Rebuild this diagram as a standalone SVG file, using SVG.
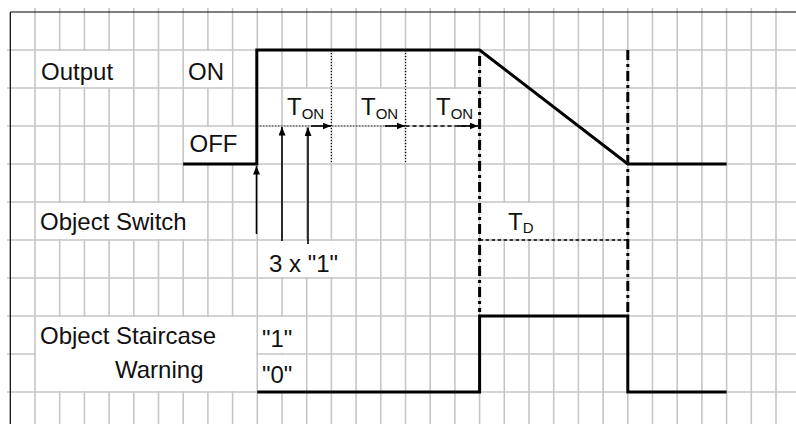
<svg xmlns="http://www.w3.org/2000/svg" width="796" height="424" viewBox="0 0 796 424">
  <defs>
    <style>
      .grid { stroke: #c6c6c6; stroke-width: 1.6; fill: none; }
      .frame { stroke: #000; stroke-width: 1.2; fill: none; }
      .box { fill: #fff; }
      .sig { stroke: #000; stroke-width: 3; fill: none; stroke-linejoin: miter; }
      .dashdot { stroke: #000; stroke-width: 3; fill: none; stroke-dasharray: 10 4 3 4; }
      .dot { stroke: #000; stroke-width: 1.2; fill: none; stroke-dasharray: 1 2; }
      .dash { stroke: #000; stroke-width: 1.4; fill: none; stroke-dasharray: 4 3; }
      .arrow { stroke: #000; stroke-width: 1.6; fill: none; marker-end: url(#head); }
      text { font-family: "Liberation Sans", Arial, sans-serif; font-size: 24px; fill: #111; }
      .sub { font-size: 15px; }
    </style>
    <marker id="head" markerUnits="userSpaceOnUse" markerWidth="9" markerHeight="8" refX="8.5" refY="3.5" orient="auto">
      <path d="M0 0 L8.5 3.5 L0 7 z" fill="#000"/>
    </marker>
  </defs>

  <rect width="796" height="424" fill="#fff"/>

  <!-- background grid: 24.7 px columns, 38 px rows -->
  <g id="grid">
    <path class="grid" d="M35 8V424M59.7 8V424M84.4 8V424M109.1 8V424M133.8 8V424M158.5 8V424M183.2 8V424M207.9 8V424M232.6 8V424M257.3 8V424M282 8V424M306.7 8V424M331.4 8V424M356.1 8V424M380.8 8V424M405.5 8V424M430.2 8V424M454.9 8V424M479.6 8V424M504.3 8V424M529 8V424M553.7 8V424M578.4 8V424M603.1 8V424M627.8 8V424M652.5 8V424M677.2 8V424M701.9 8V424M726.6 8V424M751.3 8V424M776 8V424"/>
    <path class="grid" d="M7 50H796M7 88H796M7 126H796M7 164H796M7 202H796M7 240H796M7 278H796M7 316H796M7 354H796M7 392H796"/>
    <path class="frame" d="M10.3 12V424M10.3 12H796"/>
    <!-- label backgrounds -->
    <rect class="box" x="36" y="51" width="97" height="36"/>
    <rect class="box" x="184" y="51" width="48" height="36"/>
    <rect class="box" x="184" y="127" width="72" height="36"/>
    <rect class="box" x="283" y="89" width="47.5" height="36"/>
    <rect class="box" x="357" y="89" width="47.5" height="36"/>
    <rect class="box" x="431" y="89" width="47.5" height="36"/>
    <rect class="box" x="36" y="203" width="171" height="36"/>
    <rect class="box" x="258" y="241" width="97" height="36"/>
    <rect class="box" x="480.5" y="203" width="72" height="36"/>
    <rect class="box" x="36" y="317" width="220" height="74"/>
    <rect class="box" x="258" y="317" width="48" height="36"/>
    <rect class="box" x="258" y="355" width="48" height="36"/>
  </g>

  <!-- output channel -->
  <g id="output">
    <text x="41" y="80">Output</text>
    <text x="188" y="80">ON</text>
    <text x="189.5" y="152">OFF</text>
    <path class="sig" d="M183.2 164H256.8V50H479.6L627.8 164H726.6"/>
  </g>

  <!-- switch object telegrams -->
  <g id="object-switch">
    <text x="40" y="230">Object Switch</text>
    <text x="269" y="271.5">3 x "1"</text>
  </g>

  <!-- staircase warning object -->
  <g id="staircase-warning">
    <text x="40" y="343.5">Object Staircase</text>
    <text x="115" y="378">Warning</text>
    <text x="262" y="347">"1"</text>
    <text x="262" y="383">"0"</text>
    <path class="sig" d="M257.3 392H479.6V316H627.8V392H726.6"/>
  </g>

  <!-- timing labels -->
  <g id="timing-labels">
    <text x="287" y="114.5">T<tspan class="sub" dy="4">ON</tspan></text>
    <text x="361" y="114.5">T<tspan class="sub" dy="4">ON</tspan></text>
    <text x="436" y="114.5">T<tspan class="sub" dy="4">ON</tspan></text>
    <text x="508" y="230">T<tspan class="sub" dy="3">D</tspan></text>
  </g>

  <!-- connectors: markers, intervals and trigger arrows -->
  <g id="connectors">
    <path class="dashdot" d="M479.6 56V312"/>
    <path class="dashdot" d="M627.8 50V312"/>
    <path class="dot" d="M331.4 50V164M405.5 50V164"/>
    <path class="dot" d="M257.3 126H405.5"/>
    <path class="dash" d="M405.5 126H476"/>
    <path class="dash" d="M479.6 240H627.8" style="stroke-dasharray:3.5 2.5"/>
    <path class="arrow" d="M311 126H331"/>
    <path class="arrow" d="M385 126H405"/>
    <path class="arrow" d="M458 126H478"/>
    <path class="arrow" d="M256.5 234V166"/>
    <path class="arrow" d="M282 241V127"/>
    <path class="arrow" d="M308 244V127.5"/>
  </g>
</svg>
